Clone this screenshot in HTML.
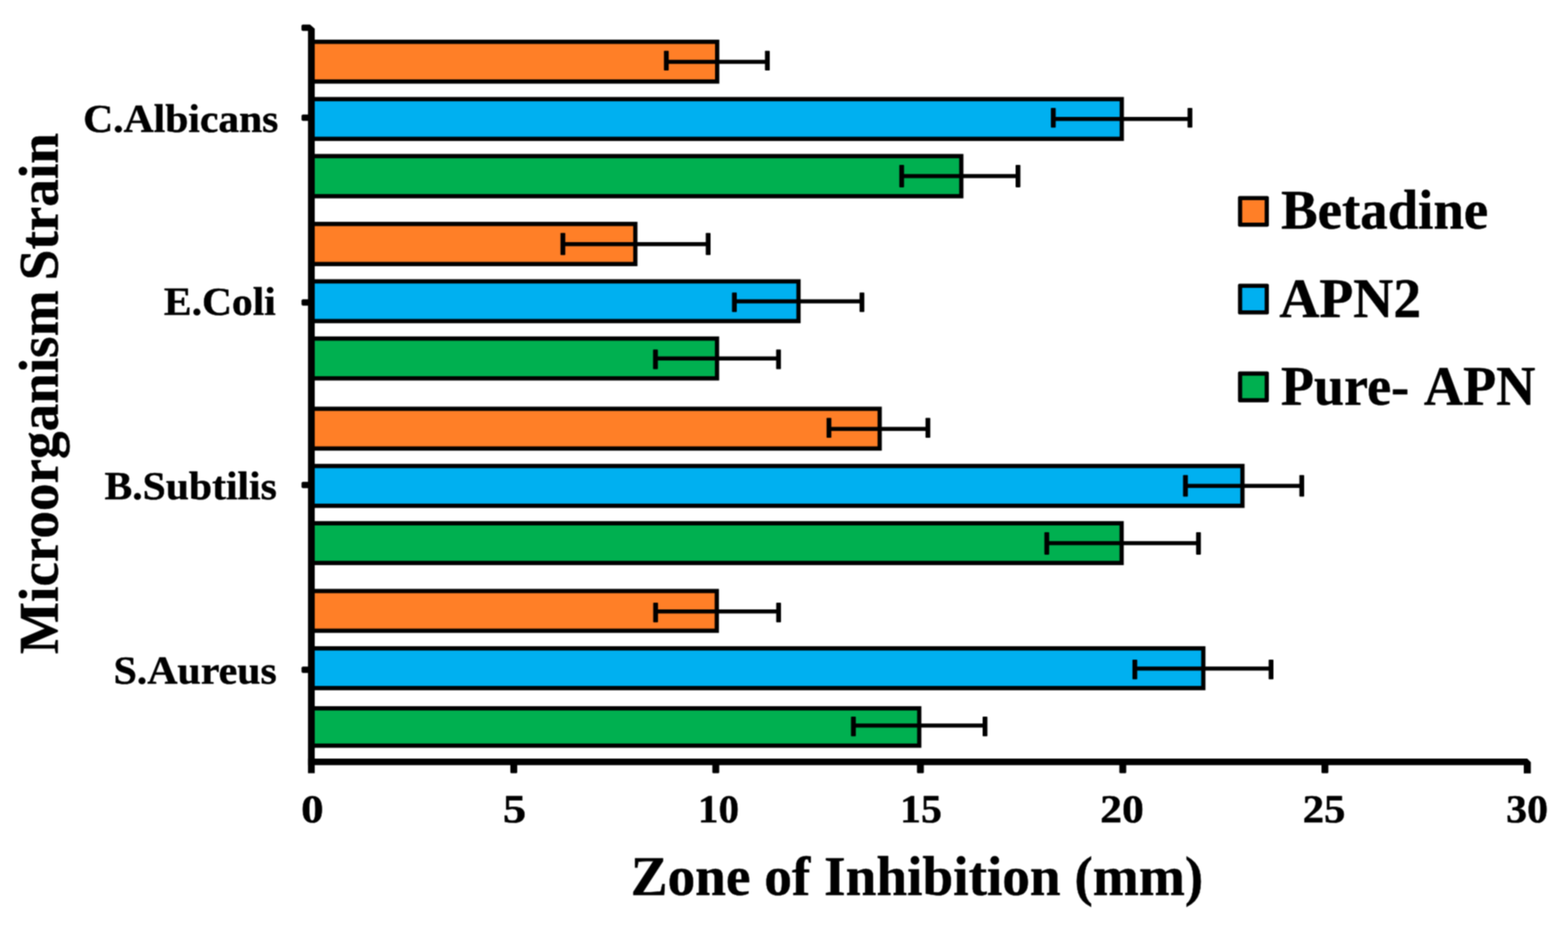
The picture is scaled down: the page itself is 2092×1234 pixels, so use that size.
<!DOCTYPE html>
<html lang="en">
<head>
<meta charset="utf-8">
<title>Zone of Inhibition by Microorganism Strain</title>
<style>
html,body{margin:0;padding:0;background:#fff;}
body{width:2092px;height:1234px;overflow:hidden;}
svg{display:block;}
</style>
</head>
<body>
<svg width="2092" height="1234" viewBox="0 0 2092 1234">
<defs><filter id="soft" x="0" y="0" width="2092" height="1234" filterUnits="userSpaceOnUse" color-interpolation-filters="sRGB"><feConvolveMatrix order="3" kernelMatrix="1 2 1 2 4 2 1 2 1" divisor="16" edgeMode="duplicate" preserveAlpha="true" color-interpolation-filters="sRGB"/></filter></defs>
<g filter="url(#soft)">
<rect x="0" y="0" width="2092" height="1234" fill="#ffffff"/>
<g id="bars">
<rect x="418.9" y="52.9" width="540.8" height="58.7" fill="#000"/>
<rect x="418.9" y="58.6" width="535.1" height="47.3" fill="#FF7F27"/>
<rect x="418.9" y="129.4" width="1080.6" height="58.7" fill="#000"/>
<rect x="418.9" y="135.1" width="1074.9" height="47.3" fill="#00B0F0"/>
<rect x="418.9" y="205.4" width="866.5" height="59.2" fill="#000"/>
<rect x="418.9" y="211.1" width="860.8" height="47.8" fill="#00B050"/>
<rect x="418.9" y="295.9" width="431.6" height="59.2" fill="#000"/>
<rect x="418.9" y="301.6" width="425.9" height="47.8" fill="#FF7F27"/>
<rect x="418.9" y="372.5" width="649.3" height="58.7" fill="#000"/>
<rect x="418.9" y="378.2" width="643.6" height="47.3" fill="#00B0F0"/>
<rect x="418.9" y="448.8" width="540.6" height="58.8" fill="#000"/>
<rect x="418.9" y="454.5" width="534.9" height="47.4" fill="#00B050"/>
<rect x="418.9" y="542.5" width="757.6" height="58.7" fill="#000"/>
<rect x="418.9" y="548.2" width="751.9" height="47.3" fill="#FF7F27"/>
<rect x="418.9" y="618.8" width="1241.6" height="58.8" fill="#000"/>
<rect x="418.9" y="624.5" width="1235.9" height="47.4" fill="#00B0F0"/>
<rect x="418.9" y="695.2" width="1080.4" height="58.7" fill="#000"/>
<rect x="418.9" y="700.9" width="1074.7" height="47.3" fill="#00B050"/>
<rect x="418.9" y="785.6" width="540.3" height="58.7" fill="#000"/>
<rect x="418.9" y="791.3" width="534.6" height="47.3" fill="#FF7F27"/>
<rect x="418.9" y="862.1" width="1189.4" height="58.7" fill="#000"/>
<rect x="418.9" y="867.8" width="1183.7" height="47.3" fill="#00B0F0"/>
<rect x="418.9" y="942.1" width="810.4" height="55.5" fill="#000"/>
<rect x="418.9" y="947.8" width="804.7" height="44.1" fill="#00B050"/>
</g>
<g id="errs" fill="#000">
<rect x="889.0" y="79.8" width="134.8" height="5.4"/>
<rect x="885.8" y="67.7" width="6.4" height="26.4" rx="0.8"/>
<rect x="1020.6" y="67.7" width="6.4" height="26.4" rx="0.8"/>
<rect x="1405.3" y="156.0" width="182.3" height="5.4"/>
<rect x="1402.1" y="143.9" width="6.4" height="26.3" rx="0.8"/>
<rect x="1584.4" y="143.9" width="6.4" height="26.3" rx="0.8"/>
<rect x="1203.0" y="232.2" width="155.2" height="5.4"/>
<rect x="1199.8" y="219.9" width="6.4" height="30.0" rx="0.8"/>
<rect x="1355.0" y="219.9" width="6.4" height="30.0" rx="0.8"/>
<rect x="751.0" y="323.0" width="193.8" height="5.4"/>
<rect x="747.8" y="310.7" width="6.4" height="29.5" rx="0.8"/>
<rect x="941.6" y="310.7" width="6.4" height="29.5" rx="0.8"/>
<rect x="979.8" y="399.3" width="170.2" height="5.4"/>
<rect x="976.6" y="390.3" width="6.4" height="26.0" rx="0.8"/>
<rect x="1146.8" y="390.3" width="6.4" height="26.0" rx="0.8"/>
<rect x="874.5" y="475.5" width="164.2" height="5.4"/>
<rect x="871.3" y="466.3" width="6.4" height="26.3" rx="0.8"/>
<rect x="1035.5" y="466.3" width="6.4" height="26.3" rx="0.8"/>
<rect x="1106.0" y="569.5" width="132.0" height="5.4"/>
<rect x="1102.8" y="557.5" width="6.4" height="26.6" rx="0.8"/>
<rect x="1234.8" y="557.5" width="6.4" height="26.6" rx="0.8"/>
<rect x="1581.6" y="645.5" width="155.2" height="5.4"/>
<rect x="1578.4" y="633.7" width="6.4" height="28.9" rx="0.8"/>
<rect x="1733.6" y="633.7" width="6.4" height="28.9" rx="0.8"/>
<rect x="1396.6" y="721.9" width="202.4" height="5.4"/>
<rect x="1393.4" y="709.9" width="6.4" height="30.0" rx="0.8"/>
<rect x="1595.8" y="709.9" width="6.4" height="30.0" rx="0.8"/>
<rect x="874.7" y="813.0" width="164.1" height="5.4"/>
<rect x="871.5" y="803.9" width="6.4" height="26.3" rx="0.8"/>
<rect x="1035.6" y="803.9" width="6.4" height="26.3" rx="0.8"/>
<rect x="1514.1" y="889.2" width="181.7" height="5.4"/>
<rect x="1510.9" y="879.9" width="6.4" height="26.3" rx="0.8"/>
<rect x="1692.6" y="879.9" width="6.4" height="26.3" rx="0.8"/>
<rect x="1138.6" y="965.2" width="175.6" height="5.4"/>
<rect x="1135.4" y="956.0" width="6.4" height="26.3" rx="0.8"/>
<rect x="1311.0" y="956.0" width="6.4" height="26.3" rx="0.8"/>
</g>
<g id="axes" fill="#000">
<path d="M404.2,32.7 L413.6,32.7 L419.9,38.2 L419.9,1031.4 L410.9,1031.4 L410.9,41.2 L404.2,41.2 Q402.2,41.2 402.2,39.2 L402.2,34.7 Q402.2,32.7 404.2,32.7 Z"/>
<path d="M410.9,1012.1 L2037.6,1012.1 L2042.4,1016.7 L2042.4,1031.8 L2033,1031.8 L2033,1020.8 L410.9,1020.8 Z"/>
<rect x="402.3" y="152.8" width="12" height="8.4" rx="2"/>
<rect x="402.3" y="399.3" width="12" height="8.4" rx="2"/>
<rect x="402.3" y="642.8" width="12" height="8.4" rx="2"/>
<rect x="402.3" y="889.3" width="12" height="8.4" rx="2"/>
<rect x="680.9" y="1016" width="9.2" height="15.4" rx="1.5"/>
<rect x="950.4" y="1016" width="9.2" height="15.4" rx="1.5"/>
<rect x="1223.4" y="1016" width="9.2" height="15.4" rx="1.5"/>
<rect x="1493.4" y="1016" width="9.2" height="15.4" rx="1.5"/>
<rect x="1763.1" y="1016" width="9.2" height="15.4" rx="1.5"/>
</g>
<g id="labels" font-family="'Liberation Serif', 'DejaVu Serif', serif" font-weight="bold" fill="#000" stroke="#000" stroke-width="0.6" stroke-linejoin="round">
<text x="110.99" y="175.90" font-size="53.8" textLength="260.46" lengthAdjust="spacingAndGlyphs">C.Albicans</text>
<text x="218.75" y="420.20" font-size="53.8" textLength="149.16" lengthAdjust="spacingAndGlyphs">E.Coli</text>
<text x="139.48" y="665.90" font-size="53.8" textLength="229.78" lengthAdjust="spacingAndGlyphs">B.Subtilis</text>
<text x="151.54" y="912.40" font-size="53.8" textLength="217.71" lengthAdjust="spacingAndGlyphs">S.Aureus</text>
<text x="401.82" y="1097.00" font-size="53.8" textLength="29.96" lengthAdjust="spacingAndGlyphs">0</text>
<text x="671.11" y="1097.00" font-size="53.8" textLength="31.06" lengthAdjust="spacingAndGlyphs">5</text>
<text x="931.32" y="1097.00" font-size="53.8" textLength="54.66" lengthAdjust="spacingAndGlyphs">10</text>
<text x="1200.72" y="1097.00" font-size="53.8" textLength="55.93" lengthAdjust="spacingAndGlyphs">15</text>
<text x="1467.75" y="1097.00" font-size="53.8" textLength="58.27" lengthAdjust="spacingAndGlyphs">20</text>
<text x="1737.90" y="1097.00" font-size="53.8" textLength="57.09" lengthAdjust="spacingAndGlyphs">25</text>
<text x="2009.61" y="1097.00" font-size="53.8" textLength="55.72" lengthAdjust="spacingAndGlyphs">30</text>
<text x="1709.19" y="305.20" font-size="74" textLength="276.41" lengthAdjust="spacingAndGlyphs">Betadine</text>
<text x="1706.88" y="422.50" font-size="74" textLength="189.10" lengthAdjust="spacingAndGlyphs">APN2</text>
<text y="539.6" font-size="74"><tspan x="1709.08" textLength="170.84" lengthAdjust="spacingAndGlyphs">Pure-</tspan> <tspan x="1899.79" textLength="148.56" lengthAdjust="spacingAndGlyphs">APN</tspan></text>
<text x="841.57" y="1193.90" font-size="75" textLength="763.77" lengthAdjust="spacingAndGlyphs">Zone of Inhibition (mm)</text>
<g transform="translate(77.0 871.2) rotate(-90)"><text y="0" font-size="74"><tspan x="-1.25" textLength="484.96" lengthAdjust="spacingAndGlyphs">Microorganism</tspan> <tspan x="497.28" textLength="196.54" lengthAdjust="spacingAndGlyphs">Strain</tspan></text></g>
</g>
<g id="legend">
<rect x="1651.7" y="261.4" width="41.2" height="41.2" rx="2" fill="#000"/>
<rect x="1657.3" y="267.0" width="30" height="30" fill="#FF7F27"/>
<rect x="1651.7" y="378.4" width="41.2" height="41.2" rx="2" fill="#000"/>
<rect x="1657.3" y="384.0" width="30" height="30" fill="#00B0F0"/>
<rect x="1651.7" y="495.6" width="41.2" height="41.2" rx="2" fill="#000"/>
<rect x="1657.3" y="501.2" width="30" height="30" fill="#00B050"/>
</g>
</g>
</svg>
</body>
</html>
